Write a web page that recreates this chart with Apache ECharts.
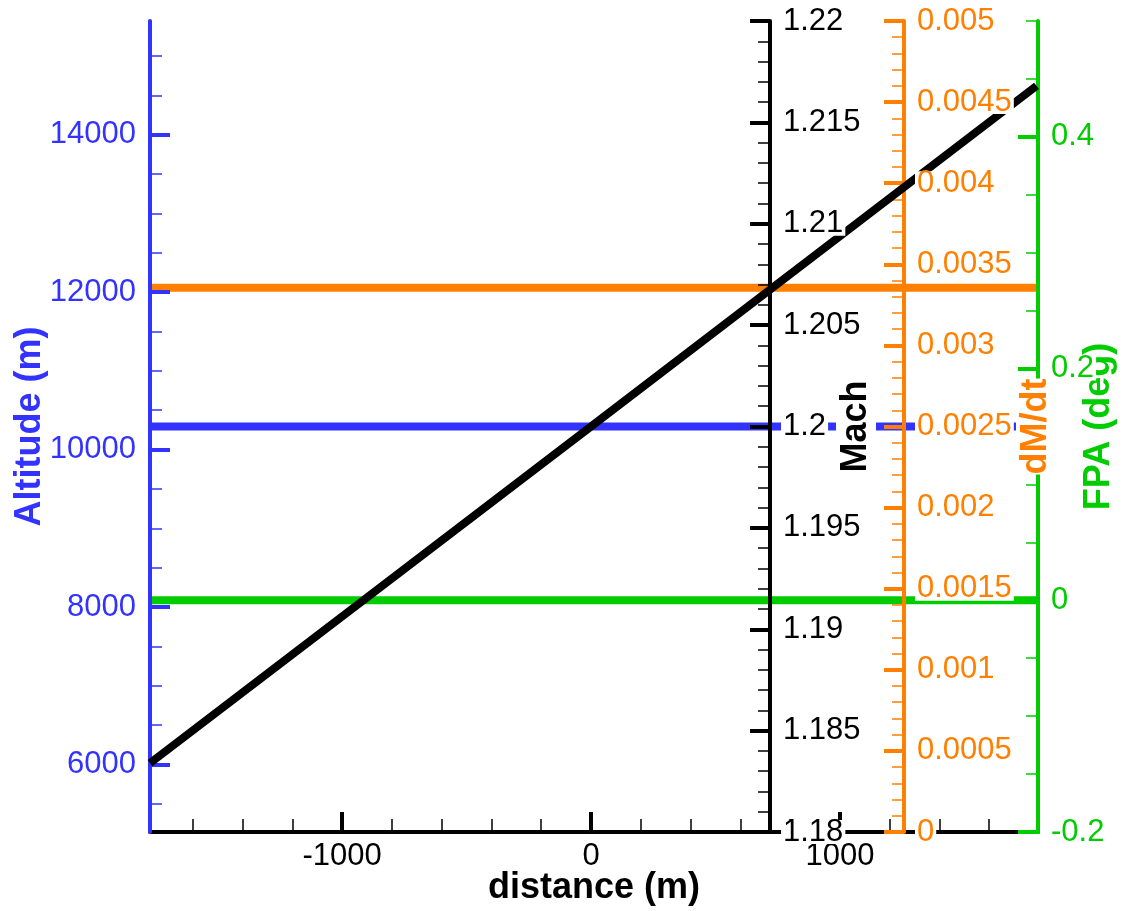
<!DOCTYPE html>
<html><head><meta charset="utf-8">
<script src="https://cdn.jsdelivr.net/npm/echarts@6/dist/echarts.min.js"></script>
<style>html,body{margin:0;padding:0;background:#fff;overflow:hidden;width:1127px;height:911px}#chart{width:1127px;height:911px}</style>
</head><body><div id="chart"></div>
<script>
// ---- data ----
const machDistance = [-1772, 0, 1790];
const machValues = [1.1834, 1.2, 1.2168];
const levelDistance = [-1772, 1796];
const altitudeValues = [10295, 10295];
const dmdtValues = [0.003356, 0.003356];
const fpaValues = [0, 0];

// ---- axes ----
const distanceRange = [-1772, 1796];
const distanceTicks = [-1000, 0, 1000];
const distanceMinorTicks = [-1600, -1400, -1200, -800, -600, -400, -200, 200, 400, 600, 800, 1200, 1400, 1600];
const altitudeRange = [5142, 15445];
const altitudeTicks = [6000, 8000, 10000, 12000, 14000];
const altitudeMinorTicks = [5500, 6500, 7000, 7500, 8500, 9000, 9500, 10500, 11000, 11500, 12500, 13000, 13500, 14500, 15000];
const machRange = [1.18, 1.22];
const machStep = 0.005;
const machMinorStep = 0.001;
const dmdtRange = [0, 0.005];
const dmdtStep = 0.0005;
const dmdtMinorStep = 0.0001;
const fpaRange = [-0.2, 0.5];
const fpaTicks = [-0.2, 0, 0.2, 0.4];
const fpaMinorStep = 0.05;

const FONT = "'Liberation Sans', Arial, Helvetica, sans-serif";
const BLUE = '#3333ff', ORANGE = '#ff8000', GREEN = '#00cc00', BLACK = '#000000';
const fmt = v => String(parseFloat(Number(v).toFixed(6)));

function makeYAxes(o) {
  const base = { type: 'value', position: o.position, offset: o.offset, min: o.range[0], max: o.range[1],
    splitLine: { show: false } };
  const main = Object.assign({}, base, {
    z: 3,
    axisLine: { show: true, onZero: false, lineStyle: { color: o.color, width: 4 } },
    axisTick: { show: true, inside: true, length: 20, lineStyle: { color: o.color, width: 4 } },
    axisLabel: { show: false }
  });
  const minor = Object.assign({}, base, {
    z: 3,
    axisLine: { show: false, onZero: false },
    axisTick: { show: true, inside: true, length: 12, lineStyle: { color: o.color, width: 1.5 } },
    axisLabel: { show: false }
  });
  const labels = Object.assign({}, base, {
    z: 5,
    axisLine: { show: false, onZero: false },
    axisTick: { show: false },
    axisLabel: { show: true, color: o.color, fontSize: 31, fontFamily: FONT, margin: o.labelMargin,
      backgroundColor: '#ffffff', padding: [0, 2], lineHeight: 24, formatter: fmt },
    name: o.name, nameLocation: 'middle', nameGap: o.nameGap, nameMoveOverlap: false,
    nameTextStyle: { color: o.color, fontSize: 36, fontWeight: 'bold', fontFamily: FONT,
      backgroundColor: '#ffffff', lineHeight: 40, padding: 0 }
  });
  if (o.ticks) {
    main.axisTick.customValues = o.ticks;
    labels.axisLabel.customValues = o.ticks;
  } else {
    main.interval = o.step;
    labels.interval = o.step;
  }
  if (o.minorTicks) minor.axisTick.customValues = o.minorTicks;
  else minor.interval = o.minorStep;
  return [main, minor, labels];
}

const yAxes = [].concat(
  makeYAxes({ position: 'left', offset: 0, range: altitudeRange, color: BLUE, ticks: altitudeTicks,
    minorTicks: altitudeMinorTicks, name: 'Altitude (m)', nameGap: 100, labelMargin: 12 }),
  makeYAxes({ position: 'right', offset: -268, range: machRange, color: BLACK, step: machStep,
    minorStep: machMinorStep, name: 'Mach', nameGap: 66, labelMargin: 11 }),
  makeYAxes({ position: 'right', offset: -134, range: dmdtRange, color: ORANGE, step: dmdtStep,
    minorStep: dmdtMinorStep, name: 'dM/dt', nameGap: 112, labelMargin: 11 }),
  makeYAxes({ position: 'right', offset: 0, range: fpaRange, color: GREEN, ticks: fpaTicks,
    minorStep: fpaMinorStep, name: 'FPA (deg)', nameGap: 41, labelMargin: 11 })
);

const xAxes = [
  { type: 'value', position: 'bottom', min: distanceRange[0], max: distanceRange[1], z: 2,
    splitLine: { show: false },
    axisLine: { show: true, onZero: false, lineStyle: { color: BLACK, width: 4 } },
    axisTick: { show: true, inside: true, length: 20, customValues: distanceTicks, lineStyle: { color: BLACK, width: 4 } },
    axisLabel: { show: true, customValues: distanceTicks, color: BLACK, fontSize: 31, fontFamily: FONT, margin: 12,
      lineHeight: 24, formatter: fmt },
    name: 'distance (m)', nameLocation: 'middle', nameGap: 38, nameMoveOverlap: false,
    nameTextStyle: { color: BLACK, fontSize: 36, fontWeight: 'bold', fontFamily: FONT, lineHeight: 36 } },
  { type: 'value', position: 'bottom', min: distanceRange[0], max: distanceRange[1], z: 2,
    splitLine: { show: false },
    axisLine: { show: false, onZero: false },
    axisTick: { show: true, inside: true, length: 13, customValues: distanceMinorTicks, lineStyle: { color: BLACK, width: 1.5 } },
    axisLabel: { show: false } }
];

const pairs = (xs, ys) => xs.map((x, i) => [x, ys[i]]);

const option = {
  animation: false,
  backgroundColor: '#ffffff',
  grid: { left: 150, right: 85, top: 21, bottom: 75 },
  xAxis: xAxes,
  yAxis: yAxes,
  series: [
    { type: 'line', name: 'Altitude', xAxisIndex: 0, yAxisIndex: 0, data: pairs(levelDistance, altitudeValues),
      symbol: 'none', z: 1, lineStyle: { color: BLUE, width: 8 } },
    { type: 'line', name: 'dM/dt', xAxisIndex: 0, yAxisIndex: 6, data: pairs(levelDistance, dmdtValues),
      symbol: 'none', z: 1, lineStyle: { color: ORANGE, width: 8 } },
    { type: 'line', name: 'FPA', xAxisIndex: 0, yAxisIndex: 9, data: pairs(levelDistance, fpaValues),
      symbol: 'none', z: 1, lineStyle: { color: GREEN, width: 8 } },
    { type: 'line', name: 'Mach', xAxisIndex: 0, yAxisIndex: 3, data: pairs(machDistance, machValues),
      symbol: 'none', z: 4, lineStyle: { color: BLACK, width: 8 } }
  ]
};

const chart = echarts.init(document.getElementById('chart'), null, { renderer: 'canvas' });
chart.setOption(option);
</script>
</body></html>
